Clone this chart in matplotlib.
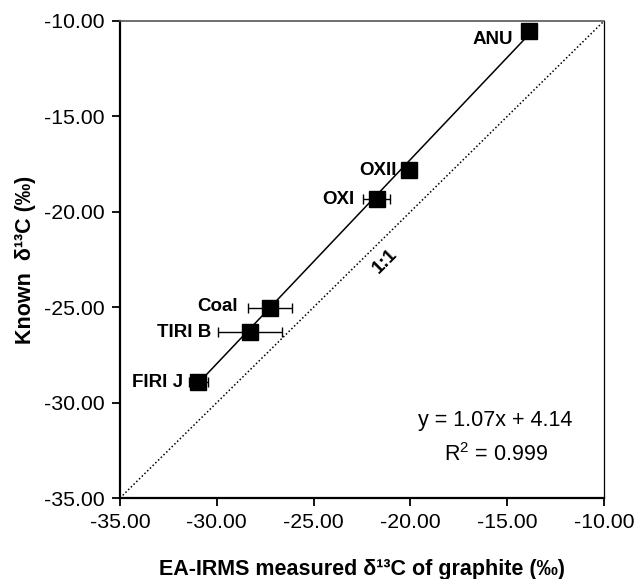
import numpy as np
import matplotlib
matplotlib.use('Agg')
import matplotlib.pyplot as plt

plt.rcParams['font.family'] = ['Liberation Sans', 'DejaVu Sans']
plt.rcParams['mathtext.fontset'] = 'custom'
plt.rcParams['mathtext.rm'] = 'Liberation Sans'

# standards: measured (EA-IRMS) vs known d13C
names = ['ANU', 'OXII', 'OXI', 'Coal', 'TIRI B', 'FIRI J']
measured = [-13.87, -20.07, -21.74, -27.25, -28.29, -30.96]
known = [-10.52, -17.81, -19.35, -25.06, -26.32, -28.94]
xerr = [0.0, 0.0, 0.69, 1.15, 1.67, 0.5]

slope = 1.07
intercept = 4.14
r2 = 0.999

ticks = [-35, -30, -25, -20, -15, -10]

fig = plt.figure(figsize=(6.35, 5.79), dpi=100)
ax = fig.add_axes([120/635, 81/579, 484/635, 477/579])

# 1:1 line
ax.plot([-35, -10], [-35, -10], color='black', linestyle=(0, (1, 1.5)), lw=1.1)

# fit line
fx = np.array([min(measured), max(measured)])
ax.plot(fx, slope*fx + intercept, color='black', lw=1.1)

ax.errorbar(measured, known, xerr=xerr, fmt='s', color='black', ms=11,
            ecolor='black', elinewidth=1, capsize=3.5, capthick=1, zorder=3)

# label offsets (points) to the left of markers
offs = {'ANU': (-11.5, -6.5), 'OXII': (-8.5, 0), 'OXI': (-16, 0),
        'Coal': (-23, 1.5), 'TIRI B': (-28, 0), 'FIRI J': (-11, 0)}
for n, x, y in zip(names, measured, known):
    ax.annotate(n, (x, y), xytext=offs[n], textcoords='offset points',
                ha='right', va='center', fontsize=13.5, fontweight='bold')

ax.text(-21.3, -22.6, '1:1', rotation=45, ha='center', va='center',
        fontsize=13.5, fontweight='bold')

ax.text(-15.6, -30.95, 'y = %.2fx + %.2f' % (slope, intercept),
        ha='center', va='center', fontsize=15.5)
ax.text(-15.6, -32.7, 'R$^{2}$ = %.3f' % r2, ha='center', va='center', fontsize=15.5)

ax.set_xlim(-35, -10)
ax.set_ylim(-35, -10)
ax.set_xticks(ticks)
ax.set_yticks(ticks)
ax.set_xticklabels(['%.2f' % t for t in ticks], fontsize=15.3)
ax.set_yticklabels(['%.2f' % t for t in ticks], fontsize=15.3)
ax.tick_params(direction='out', length=6, width=1.3, pad=5)

ax.spines['left'].set_linewidth(1.6)
ax.spines['bottom'].set_linewidth(1.6)
ax.spines['right'].set_linewidth(0.9)
ax.spines['top'].set_linewidth(1.2)
ax.spines['top'].set_color('#555555')

ax.set_xlabel('EA-IRMS measured δ¹³C of graphite (‰)', fontsize=15.5,
              fontweight='bold', labelpad=19)
ax.set_ylabel('Known  δ¹³C (‰)', fontsize=15.5, fontweight='bold', labelpad=6)

fig.savefig('out.png', dpi=100)
